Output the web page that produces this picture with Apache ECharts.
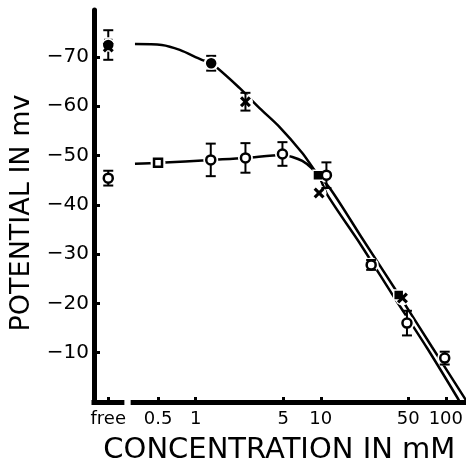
<!DOCTYPE html>
<html><head><meta charset="utf-8">
<script src="https://cdn.jsdelivr.net/npm/echarts@6/dist/echarts.min.js"></script>
<style>html,body{margin:0;padding:0;background:#fff}#c{width:466px;height:470px}</style>
</head><body><div id="c"></div>
<script>
// ---- data (concentration in mM, potential in mV) ----
const xTickConcs = [0.5, 1, 5, 10, 50, 100];
const xTickLabels = ['0.5', '1', '5', '10', '50', '100'];
const freeLabel = 'free';
const yTickValues = [-70, -60, -50, -40, -30, -20, -10];

const filledCircleConc = ['free', 1.33];
const filledCircleMv = [-72.4, -68.7];
const filledCircleErr = [3.0, 1.5];

const filledSquareConc = ['free', 9.5, 42];
const filledSquareMv = [-72.8, -46.0, -21.7];

const crossConc = ['free', 2.5, 9.7, 45];
const crossMv = [-72.0, -60.9, -42.4, -21.1];
const crossErr = [0, 1.8, 0, 0];

const openCircleConc = ['free', 1.32, 2.5, 4.94, 11.1, 25.3, 48.9, 98];
const openCircleMv = [-45.4, -49.1, -49.5, -50.3, -46.0, -27.8, -16.0, -8.9];
const openCircleErr = [1.5, 3.3, 3.0, 2.4, 2.6, 1.0, 2.5, 1.3];

const openSquareConc = [0.5];
const openSquareMv = [-48.5];

const upperCurveConc = [0.327, 0.536, 0.746, 1.12, 1.32, 2.24, 3.24, 4.67, 7.12, 8.88, 12.1, 21.8, 42.2, 77.3, 148];
const upperCurveMv = [-72.6, -72.4, -71.4, -69.4, -68.8, -63.7, -59.6, -55.8, -50.5, -47.1, -43.0, -32.9, -21.7, -11.2, 0];
const lowerCurveConc = [0.327, 0.516, 1.32, 2.50, 4.94, 5.93, 7.12, 8.40, 9.73, 11.3, 21.0, 38.5, 70.6, 127, 129];
const lowerCurveMv = [-48.3, -48.5, -49.1, -49.5, -50.1, -49.7, -48.9, -47.5, -45.6, -42.0, -31.8, -21.3, -11.0, -0.4, 0];

// ---- helpers ----
const FREE_POS = 0.2; // where the "free" column sits on the log scale
const lx = c => Math.log10(c === 'free' ? FREE_POS : c);
const pts = (cs, vs) => cs.map((c, i) => [lx(c), vs[i]]);
const errPts = (cs, vs, es) => cs.map((c, i) => [lx(c), vs[i] - es[i], vs[i] + es[i]]).filter((d, i) => es[i] > 0);
const notFree = (cs, vs) => cs.map((c, i) => [c, vs[i]]).filter(d => d[0] !== 'free').map(d => [lx(d[0]), d[1]]);

const tickPos = xTickConcs.map(lx);
const labelPos = [lx('free')].concat(tickPos);
const labelText = [freeLabel].concat(xTickLabels);

const X_MIN = -0.813, X_MAX = 2.151;
const FONT = 'DejaVu Sans';
const crossPath = 'path://M0,2L2,0L5,3L8,0L10,2L7,5L10,8L8,10L5,7L2,10L0,8L3,5Z';

const errData = [].concat(
  errPts(filledCircleConc, filledCircleMv, filledCircleErr),
  errPts(crossConc, crossMv, crossErr),
  errPts(openCircleConc, openCircleMv, openCircleErr)
);
const haloData = [].concat(
  notFree(filledCircleConc, filledCircleMv),
  notFree(crossConc, crossMv),
  notFree(openCircleConc, openCircleMv),
  notFree(openSquareConc, openSquareMv)
);

const chart = echarts.init(document.getElementById('c'), null, {renderer: 'canvas'});
chart.setOption({
  animation: false,
  backgroundColor: '#fff',
  grid: {left: 94, right: 0, top: 10, bottom: 68, containLabel: false},
  xAxis: {
    type: 'value', min: X_MIN, max: X_MAX,
    splitLine: {show: false},
    axisLine: {show: false},
    axisTick: {show: true, inside: true, length: 5, customValues: labelPos,
      lineStyle: {color: '#000', width: 3}},
    axisLabel: {show: true, customValues: labelPos, margin: 8, color: '#000',
      fontFamily: FONT, fontSize: 18,
      formatter: v => { const i = labelPos.findIndex(p => Math.abs(p - v) < 1e-6); return i >= 0 ? labelText[i] : ''; }},
    name: 'CONCENTRATION IN mM', nameLocation: 'middle', nameGap: 34,
    nameTextStyle: {color: '#000', fontFamily: FONT, fontSize: 29}
  },
  yAxis: {
    type: 'value', inverse: true, min: -79.5, max: 0,
    splitLine: {show: false},
    axisLine: {show: true, onZero: false, lineStyle: {color: '#000', width: 5}},
    axisTick: {show: true, inside: true, length: 6, customValues: yTickValues,
      lineStyle: {color: '#000', width: 3}},
    axisLabel: {customValues: yTickValues, margin: 5, color: '#000', fontFamily: FONT, fontSize: 20,
      formatter: v => '\u2212' + Math.abs(v)},
    name: 'POTENTIAL IN mv', nameLocation: 'middle', nameGap: 50, nameRotate: 90,
    nameTextStyle: {color: '#000', fontFamily: FONT, fontSize: 27, padding: [0, 14, 0, 0]}
  },
  series: [
    {
      type: 'line', data: pts(upperCurveConc, upperCurveMv), smooth: 0.3,
      showSymbol: false, lineStyle: {color: '#000', width: 2.5}, z: 2,
      markLine: {
        silent: true, symbol: ['none', 'none'], label: {show: false},
        lineStyle: {color: '#000', width: 5, type: 'solid', cap: 'square'},
        data: [
          [{coord: [X_MIN, 0]}, {coord: [-0.59, 0]}],
          [{coord: [-0.50, 0]}, {coord: [X_MAX, 0]}]
        ]
      }
    },
    {
      type: 'line', data: pts(lowerCurveConc, lowerCurveMv), smooth: 0.3,
      showSymbol: false, lineStyle: {color: '#000', width: 2.5}, z: 2
    },
    {
      type: 'scatter', data: haloData, symbol: 'circle', symbolSize: 15, silent: true,
      itemStyle: {color: '#fff', opacity: 1}, z: 3
    },
    {
      type: 'custom', z: 4,
      data: errData,
      encode: {x: 0, y: [1, 2]},
      renderItem: (params, api) => {
        const a = api.coord([api.value(0), api.value(1)]);
        const b = api.coord([api.value(0), api.value(2)]);
        const hw = 5;
        const st = {stroke: '#000', lineWidth: 2};
        return {type: 'group', children: [
          {type: 'line', shape: {x1: a[0], y1: a[1], x2: b[0], y2: b[1]}, style: st},
          {type: 'line', shape: {x1: a[0] - hw, y1: a[1], x2: a[0] + hw, y2: a[1]}, style: st},
          {type: 'line', shape: {x1: b[0] - hw, y1: b[1], x2: b[0] + hw, y2: b[1]}, style: st}
        ]};
      }
    },
    {
      type: 'scatter', data: pts(filledSquareConc, filledSquareMv), symbol: 'rect', symbolSize: 10,
      itemStyle: {color: '#000', borderColor: '#fff', borderWidth: 1.5, opacity: 1}, z: 5
    },
    {
      type: 'scatter', data: pts(filledCircleConc, filledCircleMv), symbol: 'circle', symbolSize: 12,
      itemStyle: {color: '#000', borderColor: '#fff', borderWidth: 1.5, opacity: 1}, z: 5
    },
    {
      type: 'scatter', data: pts(crossConc, crossMv), symbol: crossPath, symbolSize: 11,
      itemStyle: {color: '#000', opacity: 1}, z: 6
    },
    {
      type: 'scatter', data: pts(openCircleConc, openCircleMv), symbol: 'circle', symbolSize: 9,
      itemStyle: {color: '#fff', borderColor: '#000', borderWidth: 2.5, opacity: 1}, z: 6
    },
    {
      type: 'scatter', data: pts(openSquareConc, openSquareMv), symbol: 'rect', symbolSize: 8,
      itemStyle: {color: '#fff', borderColor: '#000', borderWidth: 2.5, opacity: 1}, z: 6
    }
  ]
});
</script></body></html>
